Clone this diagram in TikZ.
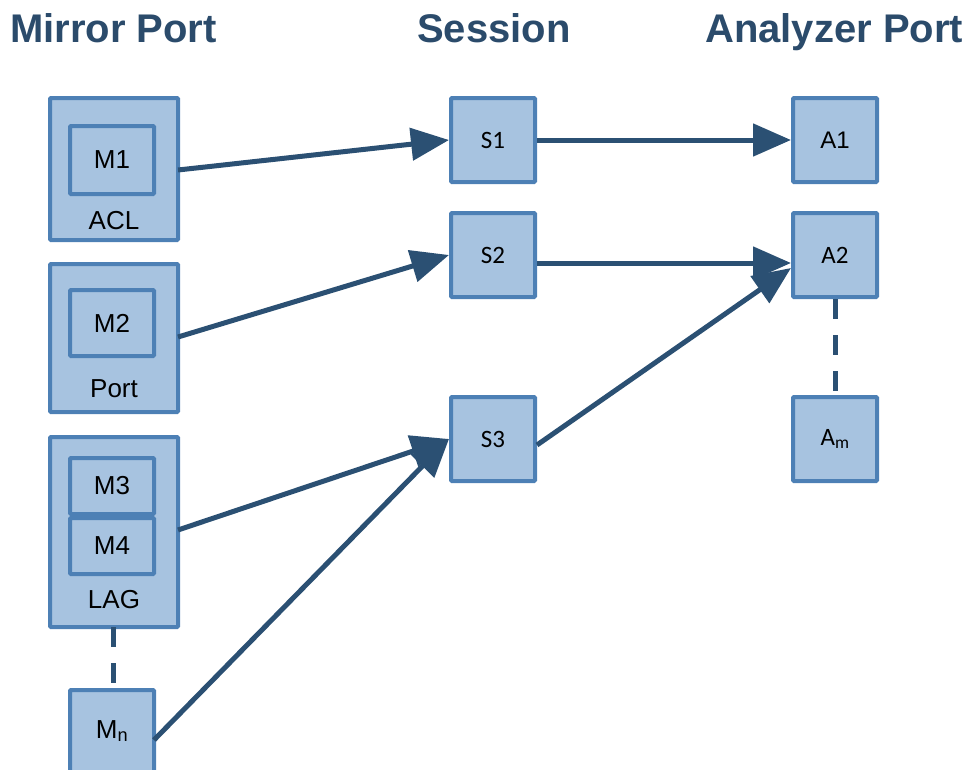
\documentclass[tikz,border=0pt]{standalone}
\usepackage{fontspec}
\setmainfont{Liberation Sans}
\newfontfamily\calib{Carlito}
\usetikzlibrary{arrows.meta}
\definecolor{boxfill}{HTML}{A7C3E0}
\definecolor{boxline}{HTML}{4D80B5}
\definecolor{arrcol}{HTML}{2B5073}
\definecolor{titlecol}{HTML}{2B4B6B}
\begin{document}
\begin{tikzpicture}[x=1pt,y=-1pt,
  outerbox/.style={draw=boxline,fill=boxfill,line width=4pt,rounded corners=1pt},
  innerbox/.style={draw=boxline,fill=boxfill,line width=4pt,rounded corners=1pt,minimum width=84pt,minimum height=68pt,inner sep=0pt,font=\fontsize{26}{28}\selectfont},
  sbox/.style={draw=boxline,fill=boxfill,line width=4pt,rounded corners=1pt,minimum width=84pt,minimum height=84pt,inner sep=0pt,font=\calib\fontsize{25}{27}\selectfont},
  lbl/.style={font=\fontsize{26}{28}\selectfont,inner sep=0pt},
  ttl/.style={font=\bfseries\fontsize{40}{42}\selectfont,text=titlecol,inner sep=0pt,anchor=base west},
  arr/.style={draw=arrcol,line width=5pt,-{Triangle[length=38pt,width=32pt]}},
  dsh/.style={draw=arrcol,line width=5pt,dash pattern=on 20pt off 16pt}
]
\useasboundingbox (0,0) rectangle (972,769);
% titles
\node[ttl] (t1) at (10,42) {Mirror Port};
\node[ttl] (t2) at (417,42) {Session};
\node[ttl] (t3) at (705,42) {Analyzer Port};
% mirror side
\node[outerbox,minimum width=128pt,minimum height=142pt,inner sep=0pt] (acl) at (114,169) {};
\node[innerbox,minimum height=68pt] (m1) at (112,160) {M1};
\node[lbl] (acllbl) at (114,221) {ACL};
\node[outerbox,minimum width=128pt,minimum height=148pt,inner sep=0pt] (port) at (114,338) {};
\node[innerbox,minimum height=66pt] (m2) at (112,323) {M2};
\node[lbl] (portlbl) at (114,389) {Port};
\node[outerbox,minimum width=128pt,minimum height=190pt,inner sep=0pt] (lag) at (114,532) {};
\node[innerbox,minimum height=56pt] (m3) at (112,486) {M3};
\node[innerbox,minimum height=56pt] (m4) at (112,546) {M4};
\node[lbl] (laglbl) at (114,600) {LAG};
\node[innerbox,minimum height=90pt,anchor=north] (mn) at (112,688) {};
\node[lbl] (mnlbl) at (112,731) {M\textsubscript{n}};
% sessions
\node[sbox] (s1) at (493,140) {S1};
\node[sbox] (s2) at (493,255) {S2};
\node[sbox] (s3) at (493,439) {S3};
% analyzers
\node[sbox,font=\fontsize{24}{26}\selectfont] (a1) at (835,140) {A1};
\node[sbox] (a2) at (835,255) {A2};
\node[sbox] (am) at (835,439) {A\textsubscript{m}};
% coordinates
\coordinate (c1) at (178,170);
\coordinate (c2) at (178,337);
\coordinate (c4) at (178,530);
\coordinate (cn) at (154,740);
\coordinate (d1) at (113,627);
\coordinate (d2) at (113,688);
% arrows
\draw[arr] (c1) -- (s1.west);
\draw[arr] (c2) -- (s2.west);
\draw[arr] (c4) -- (s3.west);
\draw[arr] (cn) -- (s3.west);
\draw[arr] (s1.east) -- (a1.west);
\draw[arr] (s2.east |- 0,263) -- (a2.west |- 0,263);
\draw[arr] (s3.east |- 0,445) -- (a2.west |- 0,268);
% dashed
\draw[dsh] (d1) -- (d2);
\draw[dsh] (a2.south) -- (am.north);
\end{tikzpicture}
\end{document}
